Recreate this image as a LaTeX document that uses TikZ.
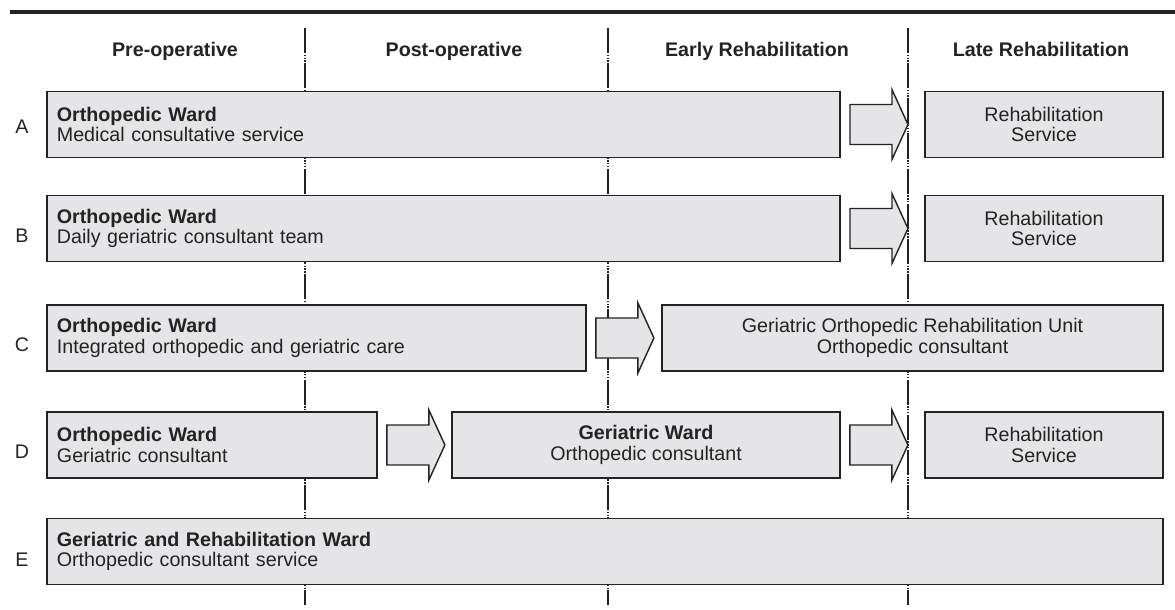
\documentclass[tikz,border=0pt]{standalone}
\usepackage{fontspec}
\setmainfont{Liberation Sans}
\usetikzlibrary{calc}
\definecolor{wardgray}{RGB}{229,229,231}
\definecolor{inkdark}{RGB}{35,35,35}

\begin{document}
\begin{tikzpicture}[x=0.025cm,y=-0.025cm,
  every node/.style={text=inkdark,font=\fontsize{14}{14.5}\selectfont},
  phase/.style={font=\fontsize{14}{14.5}\selectfont\bfseries,anchor=base},
  ward/.style={draw=inkdark,fill=wardgray,line width=1.2pt,minimum height=1.65cm,inner xsep=0.25cm,inner ysep=0pt},
  wardleft/.style={ward,align=left},
  wardmid/.style={ward,align=center},
  phaseline/.style={draw=inkdark,line width=1.4pt,dash pattern={on 18pt off 1pt on 1pt off 1pt on 1pt off 1pt on 1pt off 1pt}},
  movearrow/.style={draw=inkdark,fill=wardgray,line width=1pt,line join=miter}]
\useasboundingbox (0,0) rectangle (1175,610);
\draw[inkdark,line width=2.2pt] (10,12) -- (1175,12);
\foreach \x in {305,608,908}{
  \draw[phaseline] (\x,28) -- (\x,605);
}
% phases
\node[phase] (pre) at (175,57) {Pre-operative};
\node[phase] (post) at (454,57) {Post-operative};
\node[phase] (early) at (757,57) {Early Rehabilitation};
\node[phase] (late) at (1041,57) {Late Rehabilitation};
% row letters
\foreach \r/\y in {A/127,B/236,C/345,D/452,E/560}{
  \node (row\r) at (22,\y) {\r};
}
% wards
\node[wardleft,text width=19.325cm] (A1) at (443.5,124.5) {\textbf{Orthopedic Ward}\\Medical consultative service};
\node[wardmid,minimum width=5.95cm] (A2) at (1044,124.5) {Rehabilitation\\Service};
\node[wardleft,text width=19.325cm] (B1) at (443.5,228.5) {\textbf{Orthopedic Ward}\\Daily geriatric consultant team};
\node[wardmid,minimum width=5.95cm] (B2) at (1044,228.5) {Rehabilitation\\Service};
\node[wardleft,text width=12.975cm] (C1) at (316.5,338) {\textbf{Orthopedic Ward}\\Integrated orthopedic and geriatric care};
\node[wardmid,minimum width=12.525cm] (C2) at (912.5,338) {Geriatric Orthopedic Rehabilitation Unit\\Orthopedic consultant};
\node[wardleft,text width=7.75cm] (D1) at (212,445) {\textbf{Orthopedic Ward}\\Geriatric consultant};
\node[wardmid,minimum width=9.7cm] (D2) at (646,445) {\textbf{Geriatric Ward}\\Orthopedic consultant};
\node[wardmid,minimum width=5.95cm] (D3) at (1044,445) {Rehabilitation\\Service};
\node[wardleft,text width=27.4cm] (E1) at (605,551.5) {\textbf{Geriatric and Rehabilitation Ward}\\Orthopedic consultant service};
% transfers
\foreach \a/\b in {A1/A2,B1/B2,C1/C2,D1/D2,D2/D3}{
  \draw[movearrow] ($(\a.east)+(9,0)$) -- ++(0,-20) -- ++(42,0) -- ++(0,-15) -- ++(16,35) -- ++(-16,35) -- ++(0,-15) -- ++(-42,0) -- cycle;
}
\end{tikzpicture}
\end{document}
